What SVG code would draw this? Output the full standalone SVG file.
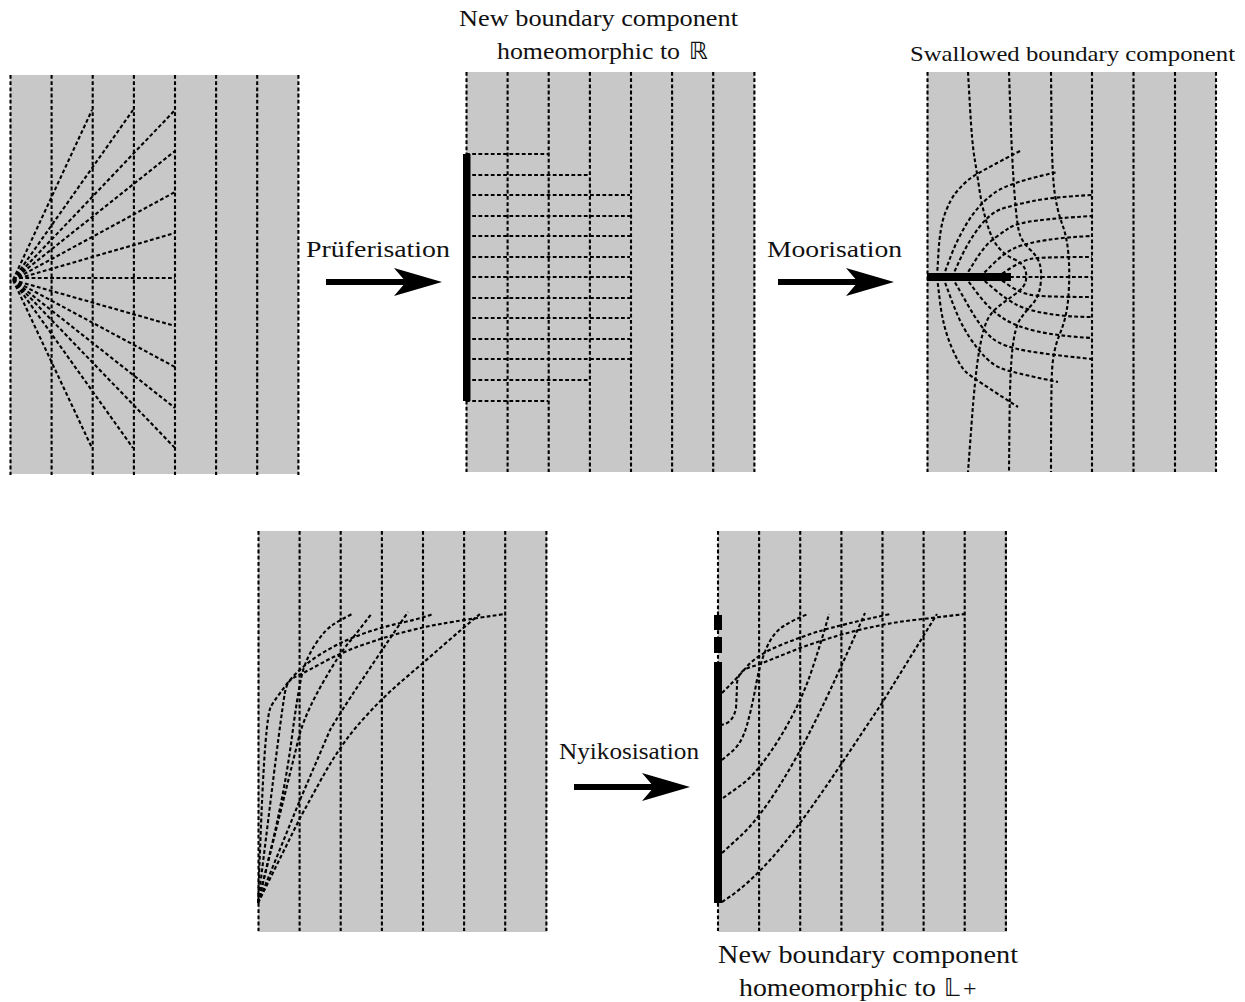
<svg xmlns="http://www.w3.org/2000/svg" width="1245" height="1002" viewBox="0 0 1245 1002">
<style>
.bg{fill:#c8c8c8}
.d{fill:none;stroke:#000;stroke-width:2.1;stroke-dasharray:3.8 2.4}
.t{font-family:"Liberation Serif","DejaVu Serif",serif;font-size:24px;fill:#111}
.m{font-family:"DejaVu Sans",sans-serif}
.bar{fill:#000}
</style>
<defs>
<g id="v"><path class="d" d="M0.5 0V400M41.6 0V400M82.7 0V400M123.9 0V400M165 0V400M206.1 0V400M247.2 0V400M288.4 0V400"/></g>
<path id="arrow" d="M0-3H84V3H0ZM116 0 68 14 80 0 68-14Z" fill="#000"/>
</defs>
<rect width="1245" height="1002" fill="#fff"/>

<g id="panel-original">
<rect class="bg" x="10" y="75" width="288.500" height="399"/>
<use href="#v" x="10" y="75"/>
<path class="d" d="M13 280L92 110M13 280L133 110M13 280L175 110M13 280L175 151M13 280L175 192M13 280L175 233M13 278H175M13 280L175 326M13 280L175 367M13 280L175 408M13 280L175 448M13 280L133 448M13 280L92 448"/>
</g>

<g id="panel-pruefer">
<rect class="bg" x="466" y="72" width="288.500" height="400"/>
<use href="#v" x="466" y="72"/>
<path class="d" d="M466 154H548M466 175H589M466 195H630M466 216H630M466 236H630M466 257H630M466 277H630M466 298H630M466 318H630M466 339H630M466 359H630M466 380H589M466 401H548"/>
<rect class="bar" x="463" y="154" width="7.500" height="247"/>
</g>

<g id="panel-moore">
<rect class="bg" x="927" y="72" width="289" height="400"/>
<path class="d" d="M927.500 72V472M1092 72V472M1133.500 72V472M1175 72V472M1216 72V472"/>
<path class="d" d="M968 72L970 107Q972 143 974.500 158Q977 173 979.500 190Q982 207 987 223.500Q992 240 998.500 247.500Q1005 255 1013.500 259Q1022 263 1024.500 268Q1027 273 1026 280Q1025 287 1016 293.500Q1007 300 998.500 306.500Q990 313 986 323Q982 333 978.500 355Q975 377 971.500 424.500L968 472"/>
<path class="d" d="M1009 72L1010.500 116Q1012 160 1014.500 193.500Q1017 227 1020 235Q1023 243 1030.500 250Q1038 257 1040 265Q1042 273 1040.500 285Q1039 297 1032 304.500Q1025 312 1020 319.500Q1015 327 1012.500 348.500Q1010 370 1009.500 421L1009 472"/>
<path class="d" d="M1051 72L1051.500 122Q1052 173 1054.500 191.500Q1057 210 1062 223.500Q1067 237 1068.500 255Q1070 273 1068.500 295Q1067 317 1060 333.500Q1053 350 1052 371.500Q1051 393 1051 472"/>
<path class="d" d="M937 277L938.500 252Q940 227 945 213.500Q950 200 956 192.500Q962 185 969.500 179Q977 173 1022 150"/>
<path class="d" d="M943 277L950.500 257Q958 237 969 220Q980 203 995 192.500Q1010 182 1058 172"/>
<path class="d" d="M952 277L960 259.500Q968 242 979 227.500Q990 213 1001.500 209Q1013 205 1033 201Q1053 197 1092 195"/>
<path class="d" d="M965 277L975 261Q985 245 994 238.500Q1003 232 1010 227.500Q1017 223 1037.500 220.500Q1058 218 1092 216"/>
<path class="d" d="M980 277L992.500 264.500Q1005 252 1016 247.500Q1027 243 1047 240Q1067 237 1092 236"/>
<path class="d" d="M997 277L1010 268.500Q1023 260 1033 258.500Q1043 257 1092 257"/>
<path class="d" d="M1010 277H1092"/>
<path class="d" d="M997 277L1008.500 285Q1020 293 1031.500 295Q1043 297 1092 297"/>
<path class="d" d="M980 277L993.500 288.500Q1007 300 1017 305Q1027 310 1047 313.500Q1067 317 1092 317"/>
<path class="d" d="M965 277L977.500 293.500Q990 310 1003.500 318.500Q1017 327 1037.500 331.500Q1058 336 1092 338"/>
<path class="d" d="M952 277L967 303.500Q982 330 992.500 338.500Q1003 347 1027.500 351Q1052 355 1092 359"/>
<path class="d" d="M943 277L951.500 300Q960 323 969 336.500Q978 350 985.500 357.500Q993 365 1001.500 368.500Q1010 372 1058 382"/>
<path class="d" d="M937 277L940 302Q943 327 951.500 347Q960 367 966.500 372.500Q973 378 1018 407"/>
<rect class="bar" x="927" y="273" width="84" height="8"/>
</g>

<g id="panel-nyikos-source">
<rect class="bg" x="258" y="531" width="289" height="401"/>
<use href="#v" x="258" y="531"/>
<path class="d" d="M258 903L260.500 838Q263 773 265.500 743Q268 713 270.500 707.500Q273 702 286.500 684.500Q300 667 320 654.500Q340 642 361 634.500Q382 627 402.500 622.500Q423 618 433 614"/>
<path class="d" d="M258 903L270.500 801.500Q283 700 285.500 690Q288 680 294 677.500Q300 675 320 664Q340 653 361 645.500Q382 638 402.500 632.500Q423 627 443 623.500Q463 620 505 614"/>
<path class="d" d="M258 903L271.500 846.500Q285 790 292 736.500Q299 683 303.500 669Q308 655 316.500 642.500Q325 630 332.500 625Q340 620 352 614"/>
<path class="d" d="M258 903L300 733Q307 710 323.500 681.500Q340 653 348.500 643Q357 633 372 613"/>
<path class="d" d="M258 903L300 800L330 730Q340 713 361 681.500Q382 650 408 612"/>
<path class="d" d="M258 903L300 818L320 781.500Q340 745 361 721.500Q382 698 402.500 680.500Q423 663 443 645.500Q463 628 480 614"/>
</g>

<g id="panel-nyikos-result">
<rect class="bg" x="718" y="531" width="289" height="401"/>
<use href="#v" x="717.500" y="531"/>
<path class="d" d="M722 693L729.500 685.500Q737 678 747 666.500Q757 655 778.500 646Q800 637 820 631Q840 625 890 614"/>
<path class="d" d="M720 725Q733 724 736 708Q737 690 737 683Q738 672 748 668L760 664Q780 656 800 648Q820 641 840 635Q861 629 882 625Q902 621 923 619L965 614"/>
<path class="d" d="M722 760L732 751.500Q742 743 747 725Q752 707 756 685Q760 663 766.500 648Q773 633 783 626.500Q793 620 808 614"/>
<path class="d" d="M723 798L740.500 785.500Q758 773 779 739Q800 705 811 672.500Q822 640 829 614"/>
<path class="d" d="M722 853L740 836.500Q758 820 779 786.500Q800 753 820 711.500Q840 670 865 613"/>
<path class="d" d="M722 902C765 875 800 825 842 763L882 703L937 614"/>
<rect class="bar" x="714" y="662" width="8" height="241"/>
<rect class="bar" x="714" y="615" width="8" height="15"/>
<rect class="bar" x="714" y="637" width="8" height="16"/>
</g>

<g id="connectors">
<use href="#arrow" x="326" y="282"/>
<use href="#arrow" x="778" y="282"/>
<use href="#arrow" x="574" y="787"/>
</g>

<g id="labels">
<text class="t" x="306" y="257" textLength="144" lengthAdjust="spacingAndGlyphs">Prüferisation</text>
<text class="t" x="767" y="257" textLength="135" lengthAdjust="spacingAndGlyphs">Moorisation</text>
<text class="t" x="559" y="759" textLength="140" lengthAdjust="spacingAndGlyphs">Nyikosisation</text>
<text class="t" x="459" y="26" textLength="279" lengthAdjust="spacingAndGlyphs">New boundary component</text>
<text class="t" x="497" y="59" textLength="183" lengthAdjust="spacingAndGlyphs">homeomorphic to</text>
<text class="t m" x="689" y="59">ℝ</text>
<text class="t" x="910" y="61" textLength="325" lengthAdjust="spacingAndGlyphs" style="font-size:22px">Swallowed boundary component</text>
<text class="t" x="718" y="963" textLength="300" lengthAdjust="spacingAndGlyphs" style="font-size:25px">New boundary component</text>
<text class="t" x="739" y="996" textLength="197" lengthAdjust="spacingAndGlyphs" style="font-size:25px">homeomorphic to</text>
<text class="t m" x="944" y="996">𝕃</text>
<text class="t" x="963" y="996">+</text>
</g>
</svg>
